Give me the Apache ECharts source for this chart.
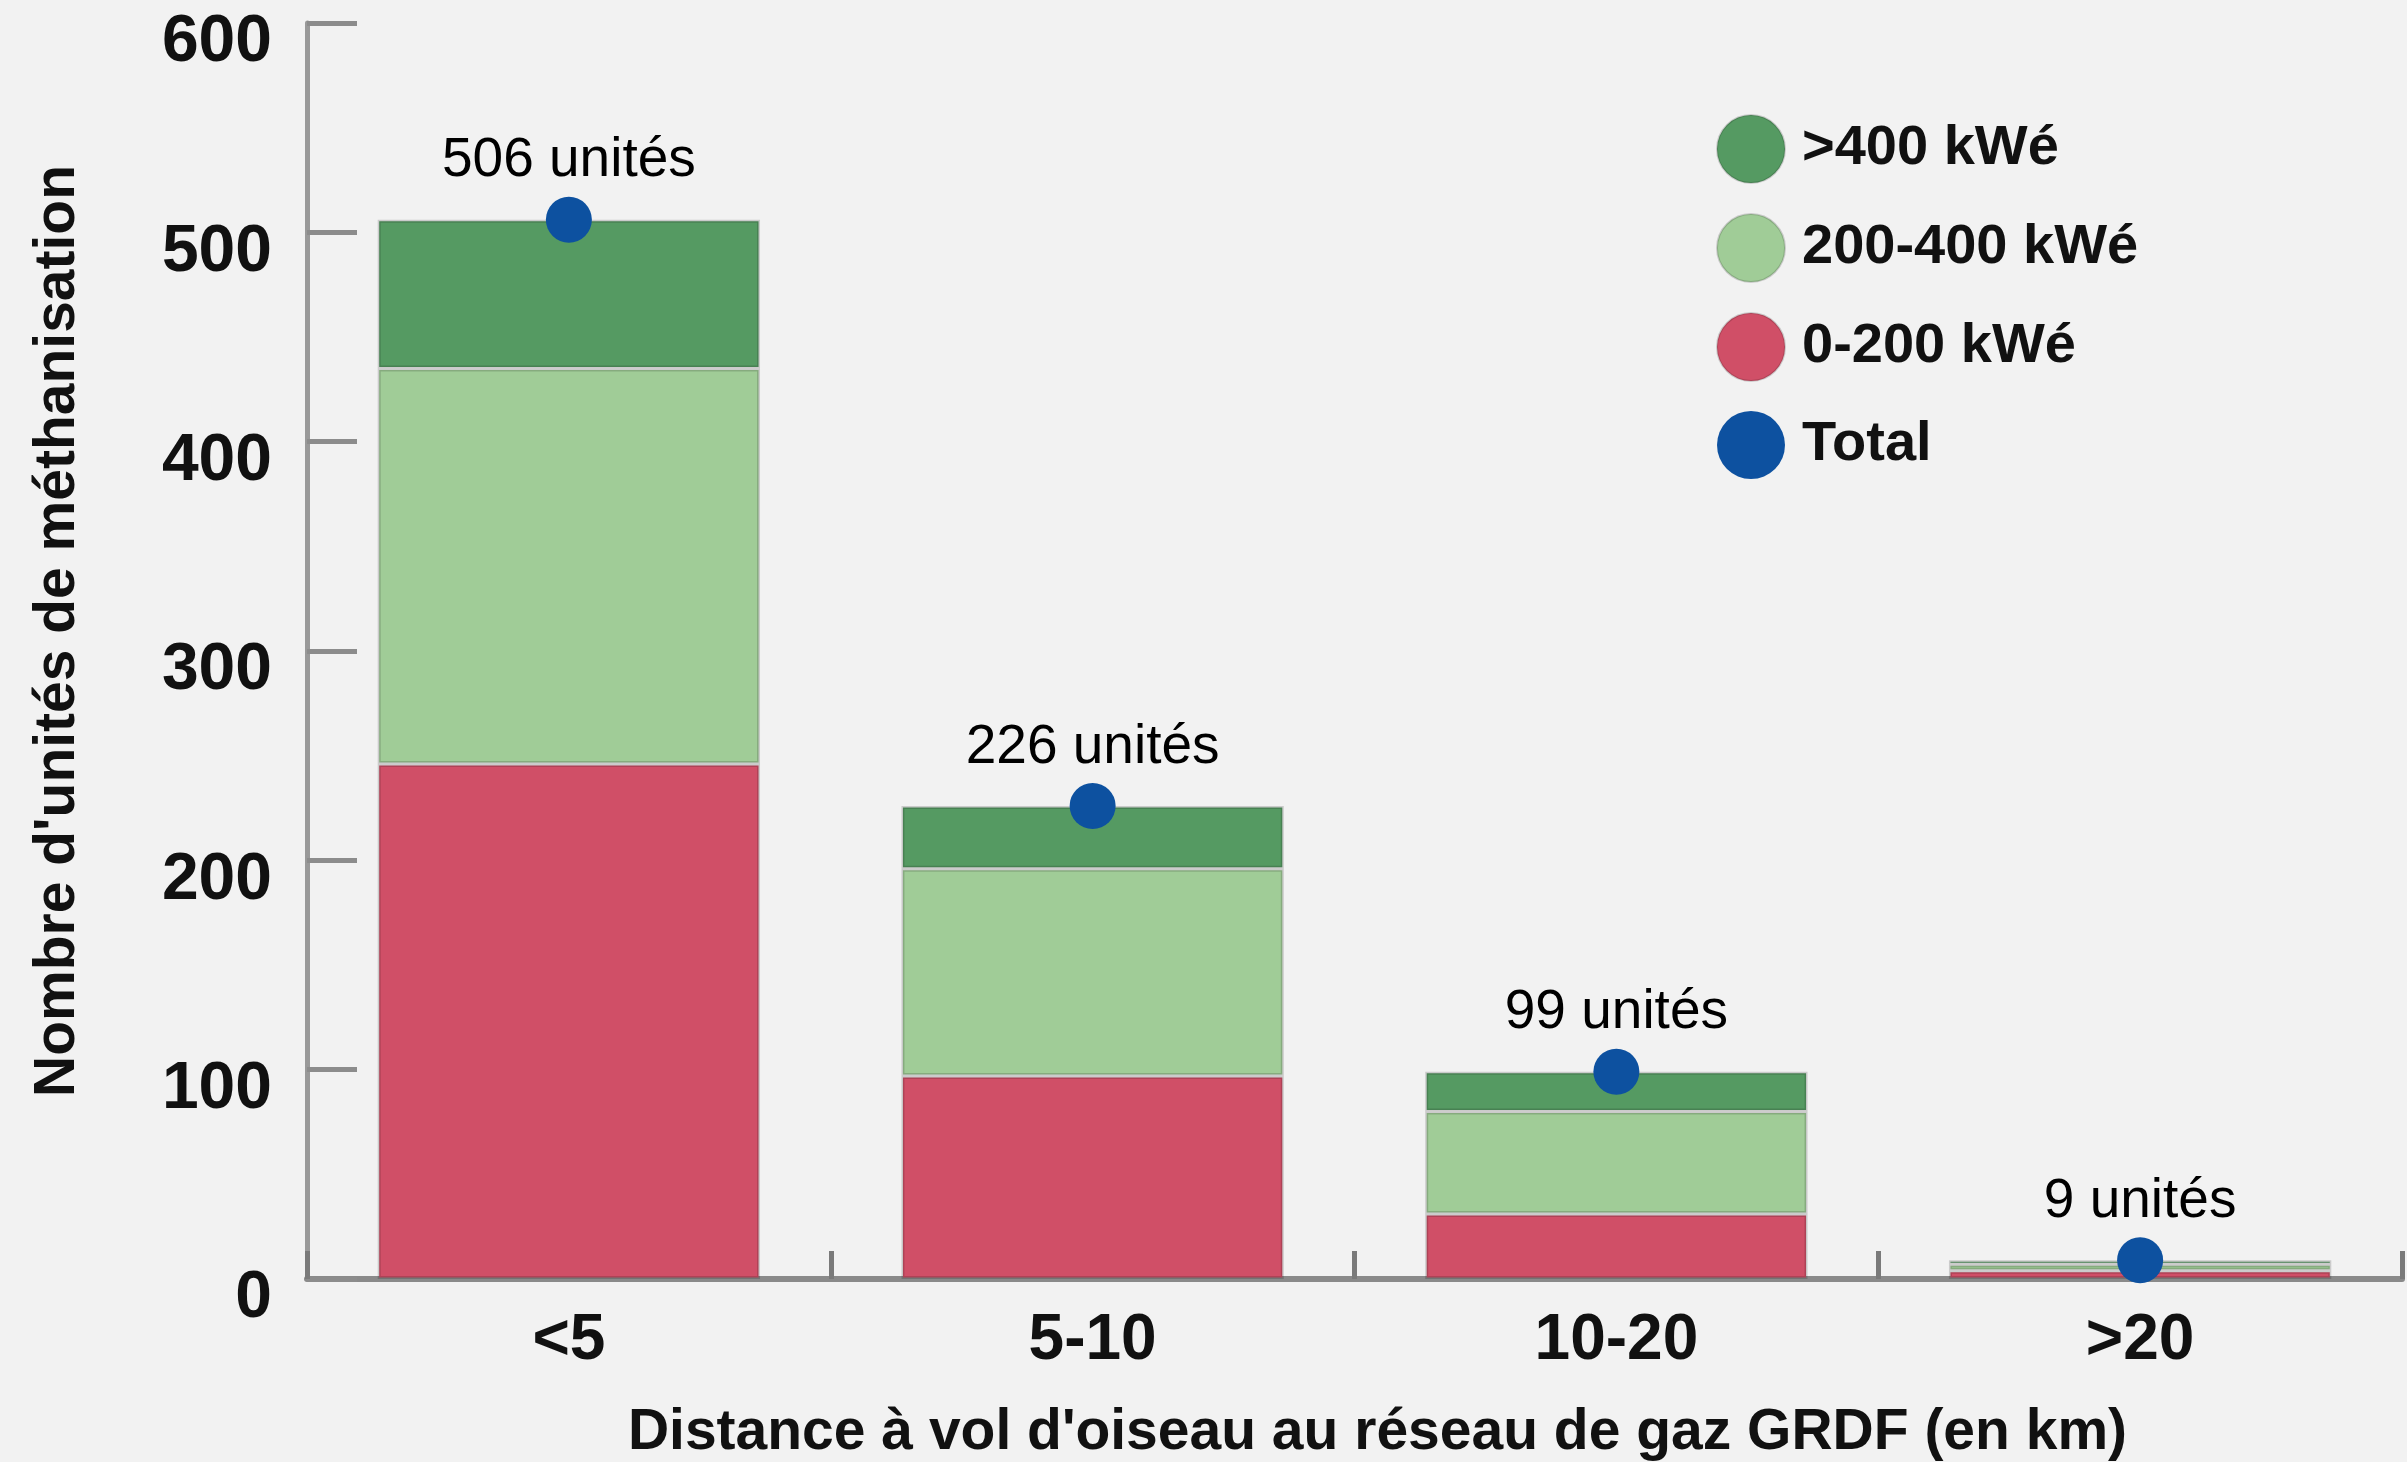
<!DOCTYPE html>
<html>
<head>
<meta charset="utf-8">
<script src="https://cdn.jsdelivr.net/npm/echarts@6/dist/echarts.min.js"></script>
<style>
  html, body { margin: 0; padding: 0; background: #f2f2f2; }
  #chart { width: 2407px; height: 1462px; }
</style>
</head>
<body>
<div id="chart"></div>
<script>
// ---- data ----
const categories = ['<5', '5-10', '10-20', '>20'];
const small = [246, 97, 31, 4];     // 0-200 kWé
const medium = [189, 99, 49, 3];    // 200-400 kWé
const large = [71, 30, 19, 2];      // >400 kWé
const totals = [506, 226, 99, 9];   // Total
const yTicks = [0, 100, 200, 300, 400, 500, 600];
const seriesNames = ['>400 kWé', '200-400 kWé', '0-200 kWé', 'Total'];

const FONT = '"Liberation Sans", Arial, Helvetica, sans-serif';
const TXT = '#111111';
const colors = { large: '#559a62', medium: '#a0cc97', small: '#d04f67', total: '#0d51a0' };

const chart = echarts.init(document.getElementById('chart'), null, { renderer: 'canvas' });

function barSeries(name, data, color) {
  return {
    name: name,
    type: 'bar',
    stack: 'units',
    data: data,
    barWidth: '73%',
    itemStyle: { color: color, borderColor: 'rgba(0,0,0,0.16)', borderWidth: 3 },
    emphasis: { disabled: true }
  };
}

chart.setOption({
  backgroundColor: '#f2f2f2',
  animation: false,
  textStyle: { fontFamily: FONT },
  grid: { left: 307, right: 5, top: 23, bottom: 183, containLabel: false, outerBoundsMode: 'none' },
  legend: {
    orient: 'vertical',
    left: 1711,
    top: 109,
    data: seriesNames,
    icon: 'circle',
    itemWidth: 68,
    itemHeight: 68,
    itemGap: 29,
    textStyle: { fontSize: 56, fontWeight: 'bold', color: TXT, fontFamily: FONT, padding: [0, 0, 0, 12] },
    selectedMode: false
  },
  xAxis: {
    type: 'category',
    data: categories,
    name: "Distance à vol d'oiseau au réseau de gaz GRDF (en km)",
    nameLocation: 'middle',
    nameGap: 126,
    nameTextStyle: { fontSize: 57, fontWeight: 'bold', color: TXT, fontFamily: FONT, padding: [0, 0, 0, 46] },
    axisLine: { show: true, lineStyle: { color: '#8a8a8a', width: 6 } },
    axisTick: { show: true, inside: true, length: 28, lineStyle: { color: '#7a7a7a', width: 5 } },
    axisLabel: { fontSize: 64, fontWeight: 'bold', color: TXT, margin: 30, fontFamily: FONT }
  },
  yAxis: {
    type: 'value',
    min: 0,
    max: 600,
    interval: 100,
    name: "Nombre d'unités de méthanisation",
    nameLocation: 'middle',
    nameGap: 220,
    nameTextStyle: { fontSize: 57, fontWeight: 'bold', color: TXT, fontFamily: FONT, padding: [0, 0, 0, 40] },
    axisLine: { show: true, lineStyle: { color: '#999999', width: 5 } },
    axisTick: { show: true, inside: true, length: 50, lineStyle: { color: '#8c8c8c', width: 5 } },
    splitLine: { show: false },
    axisLabel: {
      margin: 35,
      formatter: function (v) { return yTicks.indexOf(v) >= 0 ? '{v|' + v + '}' : ''; },
      rich: {
        v: { fontSize: 66, fontWeight: 'bold', color: TXT, fontFamily: FONT, padding: [40, 0, 0, 0] }
      }
    }
  },
  series: [
    barSeries(seriesNames[2], small, colors.small),
    barSeries(seriesNames[1], medium, colors.medium),
    barSeries(seriesNames[0], large, colors.large),
    {
      name: seriesNames[3],
      type: 'scatter',
      data: totals,
      symbol: 'circle',
      symbolSize: 46,
      z: 5,
      itemStyle: { color: colors.total, opacity: 1 },
      label: {
        show: true,
        position: 'top',
        distance: 8,
        formatter: '{c} unités',
        fontSize: 55,
        color: '#000',
        fontFamily: FONT
      },
      emphasis: { disabled: true }
    }
  ]
});
</script>
</body>
</html>
